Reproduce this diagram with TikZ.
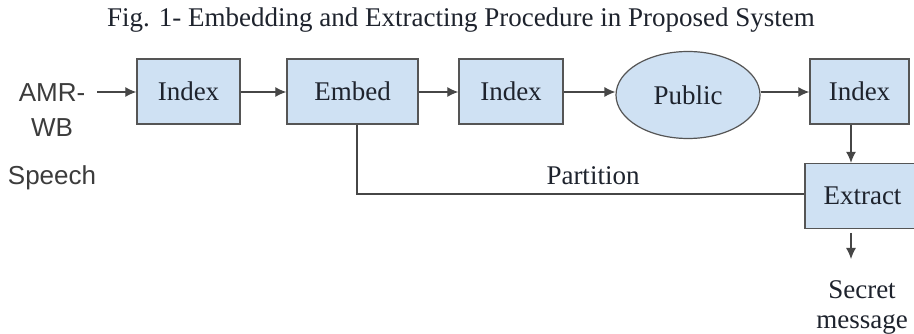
\documentclass[tikz,border=0pt]{standalone}
\usepackage{fontspec}
\setmainfont{Liberation Serif}
\newfontfamily\arialfont{Liberation Sans}
\usetikzlibrary{arrows.meta,shapes.geometric}
\definecolor{boxfill}{RGB}{207,225,243}
\definecolor{boxline}{RGB}{85,85,85}
\definecolor{edgecol}{RGB}{70,70,70}
\definecolor{txt}{RGB}{30,35,45}
\begin{document}
\begin{tikzpicture}[x=1pt,y=-1pt,
  procbox/.style={draw=boxline,line width=1.4pt,fill=boxfill,inner sep=0pt,
    font=\fontsize{27}{30}\selectfont,text=txt},
  pubell/.style={ellipse,draw=boxline,line width=1.2pt,fill=boxfill,inner sep=0pt,
    minimum width=144pt,minimum height=87pt,font=\fontsize{27}{30}\selectfont,text=txt},
  flow/.style={draw=edgecol,line width=1.2pt,-{Latex[length=11pt,width=10pt]}},
  plain/.style={draw=edgecol,line width=1.2pt},
  serif/.style={font=\fontsize{27}{30}\selectfont,text=txt,inner sep=0pt},
  sans/.style={font=\arialfont\fontsize{26}{35}\selectfont,text={rgb,255:red,60;green,60;blue,60},inner sep=0pt}]
\useasboundingbox (0,0) rectangle (914,334);
\fill[white] (0,0) rectangle (914,334);

\node[serif,anchor=base] (title) at (461,27) {Fig. 1- Embedding and Extracting Procedure in Proposed System};

\node[sans,align=center] (amr) at (52,110) {AMR-\\WB};
\node[sans] (speech) at (52,178) {Speech};

\node[procbox,minimum width=103pt,minimum height=65pt] (idx1) at (188.5,91.5) {Index};
\node[procbox,minimum width=131pt,minimum height=65pt] (embed) at (352.5,91.5) {Embed};
\node[procbox,minimum width=104pt,minimum height=65pt] (idx2) at (511,91.5) {Index};
\node[pubell] (public) at (688,95) {Public};
\node[procbox,minimum width=99pt,minimum height=65pt] (idx3) at (859.5,91.5) {Index};
\node[procbox,minimum width=115pt,minimum height=65pt] (extract) at (862.5,196) {Extract};

\node[serif] (partition) at (593,176) {Partition};
\node[serif,align=center] (secret) at (862,307) {Secret\\message};

\coordinate (amrout) at (97,92);
\coordinate (sa) at (851,233);
\coordinate (sb) at (851,259);

\draw[flow] (amrout) -- (amrout -| idx1.west);
\draw[flow] (idx1.east |- amrout) -- (embed.west |- amrout);
\draw[flow] (embed.east |- amrout) -- (idx2.west |- amrout);
\draw[flow] (idx2.east |- amrout) -- (public.west |- amrout);
\draw[flow] (public.east |- amrout) -- (idx3.west |- amrout);
\draw[flow] (idx3.south -| sa) -- (extract.north -| sa);
\draw[plain] (embed.south -| 357,0) |- (extract.west |- 0,194);
\draw[flow] (sa) -- (sb);
\end{tikzpicture}
\end{document}
